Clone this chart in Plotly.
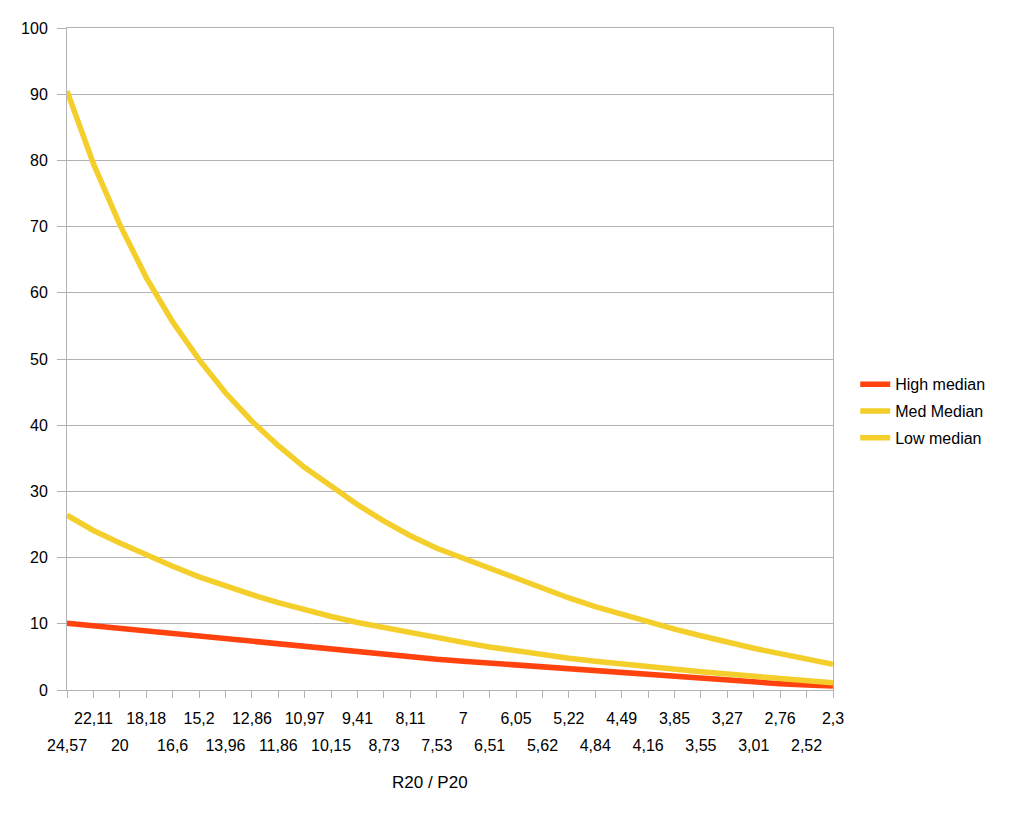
import plotly.graph_objects as go

categories = ["24,57", "22,11", "20", "18,18", "16,6", "15,2", "13,96", "12,86", "11,86", "10,97",
              "10,15", "9,41", "8,73", "8,11", "7,53", "7", "6,51", "6,05", "5,62", "5,22",
              "4,84", "4,49", "4,16", "3,85", "3,55", "3,27", "3,01", "2,76", "2,52", "2,3"]

high_median = [10.1, 9.7, 9.3, 8.9, 8.5, 8.1, 7.7, 7.3, 6.9, 6.5,
               6.1, 5.7, 5.35, 5.0, 4.65, 4.35, 4.05, 3.75, 3.45, 3.15,
               2.9, 2.6, 2.35, 2.05, 1.8, 1.5, 1.2, 0.95, 0.75, 0.6]

med_median = [26.4, 24.1, 22.2, 20.4, 18.7, 17.1, 15.7, 14.4, 13.2, 12.1,
              11.1, 10.2, 9.4, 8.6, 7.9, 7.2, 6.5, 5.9, 5.3, 4.8,
              4.35, 3.9, 3.5, 3.1, 2.75, 2.4, 2.05, 1.7, 1.4, 1.1]

low_median = [90.5, 79.5, 70.3, 62.3, 55.6, 49.9, 44.9, 40.6, 36.9, 33.6,
              30.8, 28.0, 25.5, 23.3, 21.4, 19.9, 18.2, 16.7, 15.2, 13.9,
              12.6, 11.4, 10.3, 9.2, 8.2, 7.2, 6.3, 5.5, 4.7, 3.9]

series_names = ["High median", "Med Median", "Low median"]
series_colors = ["#ff420e", "#f4cf2c", "#f4cf2c"]

x = list(range(len(categories)))

fig = go.Figure()
for k, (name, vals, col) in enumerate(zip(series_names, [high_median, med_median, low_median], series_colors)):
    fig.add_trace(go.Scatter(x=x, y=vals, mode="lines", name=name, legendgroup=f"g{k}",
                             line=dict(color=col, width=5.5), hoverinfo="skip"))

# invisible helper trace for the second (lower-row) label axis
fig.add_trace(go.Scatter(x=x, y=high_median, xaxis="x2", mode="lines",
                         line=dict(width=0), opacity=0, showlegend=False, hoverinfo="skip"))

even_vals = [i for i in x if i % 2 == 0]

FAM = "Liberation Sans, Arial, sans-serif"
font = dict(family=FAM, size=16, color="#000000")
grid = "#b3b3b3"

fig.update_layout(
    width=1023, height=826,
    margin=dict(l=67, r=190, t=28, b=136),
    paper_bgcolor="white", plot_bgcolor="white",
    font=font,
    showlegend=True,
    legend=dict(x=1.029, y=0.421, xanchor="left", yanchor="middle",
                font=dict(family=FAM, size=16, color="#000"),
                itemwidth=30, tracegroupgap=3, bgcolor="rgba(0,0,0,0)"),
    xaxis=dict(range=[0, 29], tickmode="array", tickvals=x,
               ticktext=[categories[i] if i % 2 == 1 else "" for i in x],
               ticks="outside", ticklen=7, tickcolor=grid, tickwidth=1,
               showgrid=False, zeroline=False,
               showline=True, linecolor=grid, linewidth=1, mirror=True,
               tickfont=font, ticklabelstandoff=7),
    xaxis2=dict(range=[0, 29], overlaying="x", anchor="y", side="bottom",
                tickmode="array", tickvals=even_vals,
                ticktext=[categories[i] for i in even_vals],
                ticks="", showgrid=False, zeroline=False, showline=False,
                tickfont=font, ticklabelstandoff=44),
    yaxis=dict(range=[0, 100], tickmode="array", tickvals=list(range(0, 101, 10)),
               ticks="outside", ticklen=9, tickcolor=grid,
               showgrid=True, gridcolor=grid, gridwidth=1, zeroline=False,
               showline=True, linecolor=grid, mirror=True,
               tickfont=font, ticklabelstandoff=6),
    annotations=[dict(text="R20 / P20", x=0.474, y=-0.139, xref="paper", yref="paper",
                      xanchor="center", yanchor="middle", showarrow=False,
                      font=dict(family=FAM, size=17, color="#000"))],
)

fig.write_html("out.html")
